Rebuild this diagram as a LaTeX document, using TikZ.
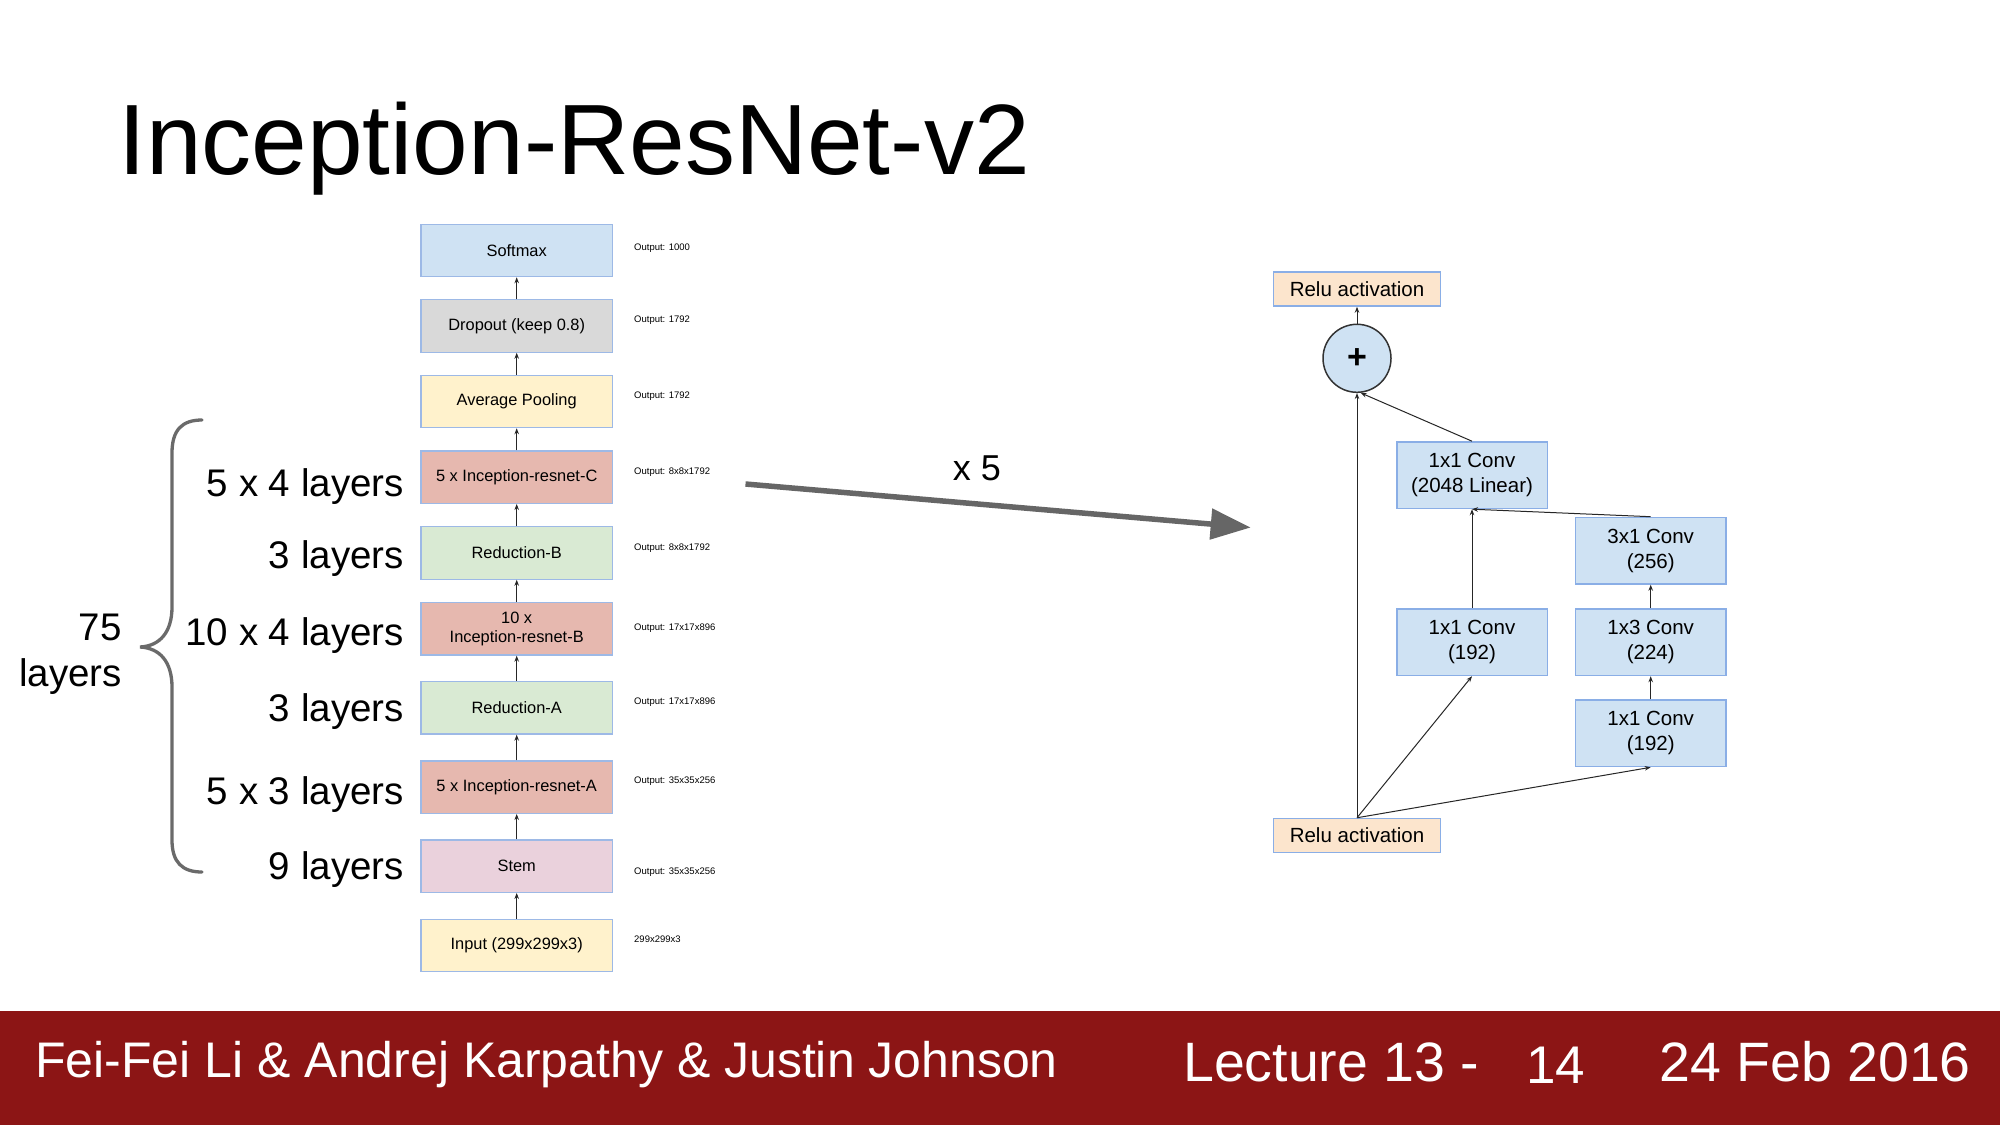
\documentclass[tikz,border=0pt]{standalone}
\usepackage{fontspec}
\setmainfont{Liberation Sans}
\usetikzlibrary{arrows.meta}

\definecolor{cardinal}{HTML}{8C1515}
\definecolor{stackline}{HTML}{9DB9E6}
\definecolor{convline}{HTML}{8AAEE6}
\definecolor{convfill}{HTML}{CFE2F3}
\definecolor{greyfill}{HTML}{D9D9D9}
\definecolor{yellowfill}{HTML}{FFF2CC}
\definecolor{redfill}{HTML}{E6B8AF}
\definecolor{greenfill}{HTML}{D9EAD3}
\definecolor{pinkfill}{HTML}{EAD1DC}
\definecolor{relufill}{HTML}{FCE5CD}
\definecolor{bracegrey}{HTML}{6A6A6A}
\definecolor{arrowgrey}{HTML}{666666}
\definecolor{plusline}{HTML}{333333}

\begin{document}
\begin{tikzpicture}[x=1pt,y=-1pt,
  layer/.style={draw=stackline, line width=1.2pt, minimum width=191.5pt,
    minimum height=52.3pt, inner sep=0pt, align=center,
    font=\fontsize{16.4}{19}\selectfont},
  outlbl/.style={anchor=base west, inner sep=0pt, font=\fontsize{9.5}{11}\selectfont},
  countlbl/.style={anchor=base east, inner sep=0pt, font=\fontsize{38.5}{46}\selectfont},
  flow/.style={-{Stealth[length=6pt,width=4.5pt]}, line width=1pt, draw=black!85},
  convbox/.style={draw=convline, fill=convfill, line width=1.5pt, minimum width=150.5pt,
    minimum height=66.5pt, inner sep=0pt, align=center, font=\fontsize{20.5}{25}\selectfont},
  relubox/.style={draw=convline, fill=relufill, line width=1.5pt, minimum width=167.4pt,
    minimum height=34pt, inner sep=0pt, font=\fontsize{20.5}{25}\selectfont},
  footer/.style={anchor=base west, inner sep=0pt, text=white},
]
% page
\fill[white] (0,0) rectangle (2000,1125);
\useasboundingbox (0,0) rectangle (2000,1125);

% title
\node[anchor=base west, inner sep=0pt, font=\fontsize{100}{110}\selectfont] (title)
  at (118,174) {Inception-ResNet-v2};

% layer stack
\node[layer, fill=convfill]   (softmax) at (516.7,250.5) {Softmax};
\node[layer, fill=greyfill]   (dropout) at (516.7,326.0) {Dropout (keep 0.8)};
\node[layer, fill=yellowfill] (avgpool) at (516.7,401.5) {Average Pooling};
\node[layer, fill=redfill]    (incc)    at (516.7,477.2) {5 x Inception-resnet-C};
\node[layer, fill=greenfill]  (redb)    at (516.7,553.0) {Reduction-B};
\node[layer, fill=redfill]    (incb)    at (516.7,628.9) {10 x\\Inception-resnet-B};
\node[layer, fill=greenfill]  (reda)    at (516.7,707.9) {Reduction-A};
\node[layer, fill=redfill]    (inca)    at (516.7,787.2) {5 x Inception-resnet-A};
\node[layer, fill=pinkfill]   (stem)    at (516.7,866.2) {Stem};
\node[layer, fill=yellowfill] (input)   at (516.7,945.5) {Input (299x299x3)};

\draw[flow] (input) -- (stem);
\draw[flow] (stem) -- (inca);
\draw[flow] (inca) -- (reda);
\draw[flow] (reda) -- (incb);
\draw[flow] (incb) -- (redb);
\draw[flow] (redb) -- (incc);
\draw[flow] (incc) -- (avgpool);
\draw[flow] (avgpool) -- (dropout);
\draw[flow] (dropout) -- (softmax);

% output sizes
\node[outlbl] (o1) at (634,250.1) {Output: 1000};
\node[outlbl] (o2) at (634,322.4) {Output: 1792};
\node[outlbl] (o3) at (634,398.4) {Output: 1792};
\node[outlbl] (o4) at (634,474.4) {Output: 8x8x1792};
\node[outlbl] (o5) at (634,550.1) {Output: 8x8x1792};
\node[outlbl] (o6) at (634,630.1) {Output: 17x17x896};
\node[outlbl] (o7) at (634,704.4) {Output: 17x17x896};
\node[outlbl] (o8) at (634,783.4) {Output: 35x35x256};
\node[outlbl] (o9) at (634,874.1) {Output: 35x35x256};
\node[outlbl] (o10) at (634,942.4) {299x299x3};

% layer counts
\node[countlbl] (n1) at (404,496) {5 x 4 layers};
\node[countlbl] (n2) at (404,568) {3 layers};
\node[countlbl] (n3) at (404,645) {10 x 4 layers};
\node[countlbl] (n4) at (404,721) {3 layers};
\node[countlbl] (n5) at (404,804) {5 x 3 layers};
\node[countlbl] (n6) at (404,879) {9 layers};

% brace and total
\draw[bracegrey, line width=3.3pt, line cap=round]
  (202,420) .. controls (182,420) and (172,430) .. (172,453)
  -- (172,607) .. controls (172,632) and (160,646) .. (140,647)
  .. controls (160,648) and (172,662) .. (172,687)
  -- (172,840) .. controls (172,862) and (182,872) .. (202,872);
\node[countlbl] (tot1) at (122,640) {75};
\node[countlbl] (tot2) at (122,686) {layers};

% repeat arrow
\coordinate (xs) at (745.5,484);
\coordinate (xe) at (1250.7,527.5);
\draw[arrowgrey, line width=5.5pt, -{Triangle[length=40pt,width=30pt]}] (xs) -- (xe);
\node[anchor=base, inner sep=0pt, font=\fontsize{36}{42}\selectfont] (rep) at (977,480.6) {x 5};

% residual block
\node[relubox] (reluout) at (1357,289) {Relu activation};
\node[circle, draw=plusline, fill=convfill, line width=1.5pt, minimum size=68pt,
  inner sep=0pt] (plus) at (1357,358.3) {\fontsize{34}{34}\selectfont\bfseries +};
\node[convbox] (lin)  at (1472,475.2) {1x1 Conv\\(2048 Linear)};
\node[convbox] (c31)  at (1650.7,550.7) {3x1 Conv\\(256)};
\node[convbox] (c11a) at (1472,642.2) {1x1 Conv\\(192)};
\node[convbox] (c13)  at (1650.7,642.2) {1x3 Conv\\(224)};
\node[convbox] (c11b) at (1650.7,733.3) {1x1 Conv\\(192)};
\node[relubox] (reluin) at (1357,835.5) {Relu activation};

\draw[flow] (reluin.north) -- (plus.south);
\draw[flow] (reluin.north) -- (c11a.south);
\draw[flow] (reluin.north) -- (c11b.south);
\draw[flow] (c11b) -- (c13);
\draw[flow] (c13) -- (c31);
\draw[flow] (c11a) -- (lin);
\draw[flow] (c31.north) -- (lin.south);
\draw[flow] (lin.north) -- (plus.-84);
\draw[flow] (plus) -- (reluout);

% footer
\fill[cardinal] (0,1011) rectangle (2000,1125);
\node[footer, font=\fontsize{50}{56}\selectfont] (authors) at (35,1077) {Fei-Fei Li \& Andrej Karpathy \& Justin Johnson};
\node[footer, font=\fontsize{55.5}{62}\selectfont] (lecture) at (1183,1081) {Lecture 13 -};
\node[footer, font=\fontsize{53}{60}\selectfont] (page) at (1526,1083) {14};
\node[footer, font=\fontsize{55.5}{62}\selectfont] (date) at (1659,1081) {24 Feb 2016};
\end{tikzpicture}
\end{document}
